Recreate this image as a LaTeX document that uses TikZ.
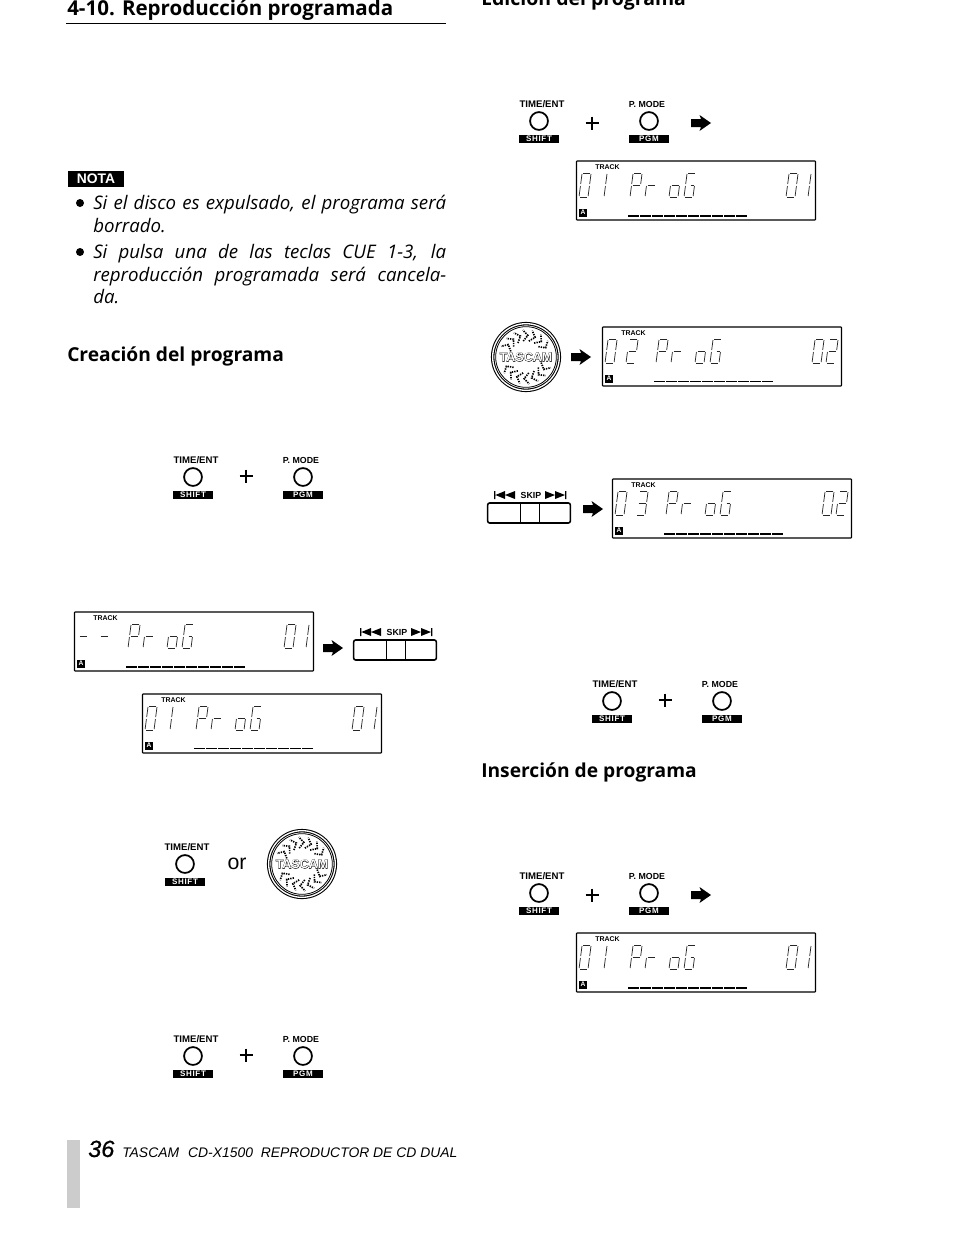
\documentclass[tikz,border=0pt]{standalone}
\usepackage{fontspec}
\setmainfont{Open Sans}
\newfontfamily\ar{Liberation Sans}
\newfontfamily\arsemi[ItalicFeatures={FakeBold=0.6}]{Liberation Sans}
\newfontfamily\arw[LetterSpace=9]{Liberation Sans}
\newfontfamily\arfat[FakeBold=4]{Liberation Sans}
\newcommand\fs[1]{\fontsize{#1}{#1}\selectfont}
% seven-segment parts (local px, y down)
\def\sega{(1,0)--(8,0)}
\def\segb{(9,1)--(9,11)}
\def\segc{(9,13)--(9,23)}
\def\segd{(1,24)--(8,24)}
\def\sege{(0,13)--(0,23)}
\def\segf{(0,1)--(0,11)}
\def\segg{(1,12)--(8,12)}
\def\segh{(5,12)--(8,12)}
\def\segi{(4,1)--(4,11)}
\def\segj{(4,13)--(4,23)}
\newcommand\dg[2]{\begin{scope}[shift={(#1,36)},xslant=0.13,shift={(0,-24)}]
  \edef\seglist{#2}
  \foreach \s in \seglist {\draw[segline] \csname seg\s\endcsname;}
\end{scope}}
\def\Dzero{a,b,c,d,e,f}
\def\Done{i,j}
\def\Dtwo{a,b,g,e,d}
\def\Dthree{a,b,g,c,d}
\newcommand\lcdR[9]{\begin{scope}[shift={(#2,#3)}]
  \node[lcdbox] (#1) at (120,29.5) {};
  \node[tracktxt] (#1t) at (31.5,6.5) {TRACK};
  \node[abox] (#1a) at (7,51.5) {A};
  \dg{3}{#4}\dg{24}{#5}
  \dg{54}{a,b,f,g,e}\dg{69}{e,g}\dg{93}{c,d,e,g}\dg{108}{a,f,e,d,c,h}
  \dg{210}{#6}\dg{#7}{#8}
  \foreach \i in {0,...,9}{\draw[line width=#9] (52+\i*12,54.5) -- ++(10.6,0);}
\end{scope}}
% one button
\newcommand\btn[5]{\begin{scope}[shift={(#2,#3)}]
  \node[btnlbl#5] (#1l) at (#4,-17) {\csname lbl#5\endcsname};
  \node[btncirc] (#1c) at (0,0) {};
  \node[btnbar] (#1b) at (0,18) {\csname bar#5\endcsname};
\end{scope}}
\def\lblT{TIME/ENT}\def\barT{SHIFT}
\def\lblP{P. MODE}\def\barP{PGM}
\newcommand\pair[4]{\begin{scope}[shift={(#2,#3)}]
  \btn{#1a}{0}{0}{3}{T}
  \btn{#1b}{110}{0}{-2}{P}
  \draw[line width=.9pt] (53,#4-6.5) -- (53,#4+6.5) (46.5,#4) -- (59.5,#4);
\end{scope}}
\newcommand\block[1]{\fill[shift={(#1)}] (-10,-4) -- (0,-4) -- (-1.5,-8) -- (10,0) -- (-1.5,8) -- (0,4) -- (-10,4) -- cycle;}
\newcommand\skipbtn[3]{\begin{scope}[shift={(#2,#3)}]
  \node[skipbox] (#1) at (42,10) {};
  \draw[line width=.7pt] (33,0) -- (33,20) (52,0) -- (52,20);
  \node[skiptxt] (#1s) at (44,-8) {SKIP};
  \fill (7,-12) rectangle (8.4,-4) (8.4,-8) -- (18,-12) -- (18,-4) -- cycle (18,-8) -- (28,-12) -- (28,-4) -- cycle;
  \fill (78,-12) rectangle (79.4,-4) (78,-8) -- (68,-12) -- (68,-4) -- cycle (68,-8) -- (58,-12) -- (58,-4) -- cycle;
\end{scope}}
\newcommand\chev[2]{\draw[chevline,rotate=#1,shift={(#2,0)}] (-5.5,-2.2) -- (0,2.6) -- (5.5,-2.2);}
\newcommand\wheel[3]{\begin{scope}[shift={(#2,#3)}]
  \node[wheelout] (#1) at (0,0) {};
  \node[wheelin] (#1i) at (0,0) {};
  \foreach \a in {32,52,72,92,112,132,152}{\chev{\a}{21.5}}
  \foreach \a in {212,232,252,272,292,312,332}{\chev{\a}{21.5}}
  \node[tascamB] (#1b) at (0,0) {TASCAM};
  \node[tascamW] (#1w) at (0,0) {TASCAM};
\end{scope}}
\begin{document}
\begin{tikzpicture}[x=.75pt,y=-.75pt,
  segline/.style={line width=.55pt,black!85},
  lcdbox/.style={draw,line width=.8pt,minimum width=179.25pt,minimum height=44.25pt,inner sep=0,rounded corners=.5pt},
  tracktxt/.style={font=\ar\bfseries\fs{5.2pt},inner sep=0},
  abox/.style={fill=black,text=white,font=\ar\bfseries\fs{5pt},minimum size=6pt,inner sep=0},
  btnlblT/.style={font=\ar\bfseries\fs{7.2pt},inner sep=0},
  btnlblP/.style={font=\ar\bfseries\fs{6.6pt},inner sep=0},
  btncirc/.style={circle,draw,line width=1.3pt,minimum size=13.4pt,inner sep=0},
  btnbar/.style={fill=black,text=white,font=\arw\bfseries\fs{6pt},minimum width=30pt,minimum height=6pt,inner sep=0},
  skipbox/.style={draw,line width=1.2pt,rounded corners=1.5pt,minimum width=62pt,minimum height=15pt,inner sep=0},
  skiptxt/.style={font=\ar\bfseries\fs{6.6pt},inner sep=0},
  wheelout/.style={circle,draw,double=white,double distance=1pt,line width=.8pt,minimum size=50pt,inner sep=0},
  wheelin/.style={circle,draw,line width=.6pt,minimum size=45.5pt,inner sep=0},
  chevline/.style={line width=1.25pt,dash pattern=on 1pt off .8pt},
  tascamB/.style={font=\arfat\bfseries\fs{9.4pt},inner sep=0},
  tascamW/.style={font=\ar\bfseries\fs{9.4pt},text=white,inner sep=0},
  head/.style={font=\bfseries\fs{14.4pt},anchor=base west,inner sep=0},
  body/.style={font=\itshape\fs{14pt},anchor=base west,inner sep=0},
]
\fill[white] (0,0) rectangle (954,1235);
\useasboundingbox (0,0) rectangle (954,1235);
\clip (0,0) rectangle (954,1235);
% headings
\node[head,font=\bfseries\fs{15.4pt}] (h1) at (67,15) {4-10. Reproducción programada};
\draw[line width=.75pt] (66,23) -- (446,23);
\node[head,font=\bfseries\fs{14.6pt}] (h2) at (481,6) {Edición del programa};
\node[head] (h3) at (67,361) {Creación del programa};
\node[head] (h4) at (481,777) {Inserción de programa};
% note
\node[fill=black,text=white,font=\ar\bfseries\fs{10.4pt},minimum width=42pt,minimum height=12pt,inner sep=0] (nota) at (96,179) {NOTA};
\node[circle,fill=black,minimum size=6pt,inner sep=0] (b1) at (80,203) {};
\node[circle,fill=black,minimum size=6pt,inner sep=0] (b2) at (80,252) {};
\node[body] (t1) at (93,209) {\makebox[264.75pt][s]{Si el disco es expulsado, el programa será}};
\node[body] (t2) at (93,232) {borrado.};
\node[body] (t3) at (93,258) {\makebox[264.75pt][s]{Si pulsa una de las teclas CUE 1-3, la}};
\node[body] (t4) at (93,281) {\makebox[264.75pt][s]{reproducción programada será cancela-}};
\node[body] (t5) at (93,303) {da.};
% buttons
\pair{p1}{193}{477}{-1}
\pair{p2}{539}{121}{2}
\pair{p3}{193}{1056}{-1}
\pair{p4}{612}{701}{-1}
\pair{p5}{539}{893}{2}
\btn{s1}{185}{864}{2}{T}
\node[font=\ar\fs{16pt},inner sep=0] (or) at (237,864) {or};
\wheel{w1}{302}{864}
\wheel{w2}{526}{357}
% arrows
\block{701,123}
\block{701,895}
\block{333,648}
\block{581,357}
\block{593,509}
% skip
\skipbtn{k1}{353}{640}
\skipbtn{k2}{487}{503}
% displays
\lcdR{d1}{74}{612}{g}{g}{\Dzero}{228}{\Done}{1.5pt}
\lcdR{d2}{142}{694}{\Dzero}{\Done}{\Dzero}{228}{\Done}{.8pt}
\lcdR{d3}{576}{161}{\Dzero}{\Done}{\Dzero}{228}{\Done}{1.5pt}
\lcdR{d4}{602}{327}{\Dzero}{\Dtwo}{\Dzero}{224}{\Dtwo}{.8pt}
\lcdR{d5}{612}{479}{\Dzero}{\Dthree}{\Dzero}{224}{\Dtwo}{1.5pt}
\lcdR{d6}{576}{933}{\Dzero}{\Done}{\Dzero}{228}{\Done}{1.5pt}
% footer
\fill[black!20] (67,1140) rectangle (80,1208);
\node[font=\arsemi\itshape\fs{17.6pt},anchor=base west,inner sep=0] (pg) at (88,1157) {36};
\node[font=\ar\itshape\fs{10.42pt},anchor=base west,inner sep=0] (ft) at (122,1157) {TASCAM\ \ \hspace{1pt}CD-X1500\ \ REPRODUCTOR DE CD DUAL};
\end{tikzpicture}
\end{document}
